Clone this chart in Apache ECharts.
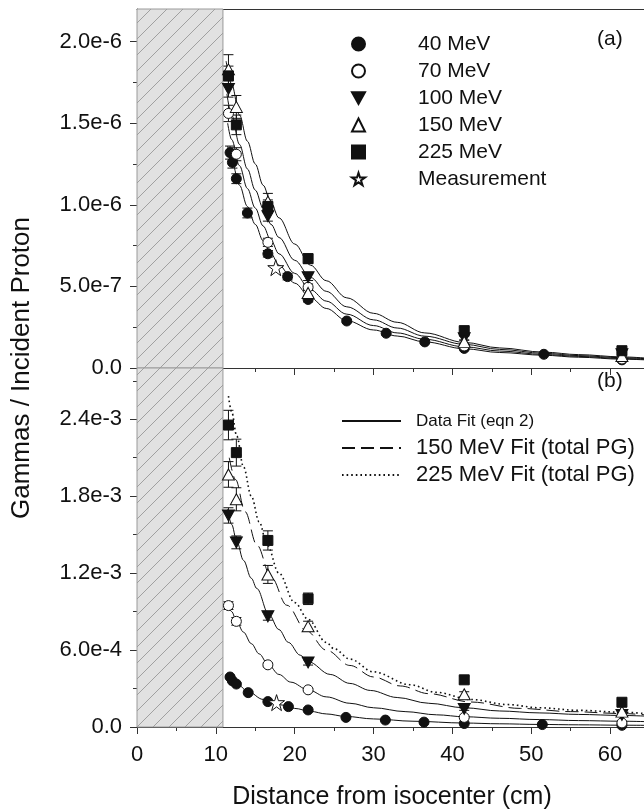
<!DOCTYPE html>
<html>
<head>
<meta charset="utf-8">
<script src="https://cdn.jsdelivr.net/npm/echarts@6/dist/echarts.min.js"></script>
<style>
html, body { margin: 0; padding: 0; background: #fff; }
#chart { width: 644px; height: 812px; }
</style>
</head>
<body>
<div id="chart"></div>
<script>
// Distance from isocenter in cm.
// Panel (a): prompt-gamma yield in units of 1e-6 per incident proton.
// Panel (b): yield in units of 1e-3 per incident proton.
// Point rows: [distance, value, error]

const xTicks = [0, 10, 20, 30, 40, 50, 60];
const xMinor = [5, 15, 25, 35, 45, 55];
const aTicks = [0, 0.5, 1.0, 1.5, 2.0];
const aTickLabels = ['0.0', '5.0e-7', '1.0e-6', '1.5e-6', '2.0e-6'];
const aMinor = [0.25, 0.75, 1.25, 1.75];
const bTicks = [0, 0.6, 1.2, 1.8, 2.4];
const bTickLabels = ['0.0', '6.0e-4', '1.2e-3', '1.8e-3', '2.4e-3'];
const bMinor = [0.3, 0.9, 1.5, 2.1, 2.7];

const xMax = 64.3;
const aMax = 2.2;
const bMax = 2.8;
const shieldEnd = 10.9;   // hatched region, 0 .. shieldEnd cm

// ---- panel (a) measurements
const a40 = [[11.8,1.32,0.04],[12.1,1.26,0.035],[12.6,1.16,0.03],[14.0,0.95,0.03],[16.6,0.70,0.02],[19.1,0.56,0.02],[21.7,0.42,0.015],[26.6,0.288,0.01],[31.6,0.213,0.01],[36.5,0.16,0.008],[41.5,0.12,0.008],[51.6,0.084,0.006],[61.5,0.05,0.005]];
const a70 = [[11.6,1.56,0.05],[12.6,1.31,0.04],[16.6,0.77,0.025],[21.7,0.495,0.02],[41.5,0.135,0.01],[61.5,0.055,0.008]];
const a100 = [[11.6,1.71,0.05],[16.6,0.93,0.03],[21.7,0.556,0.02],[41.5,0.182,0.012],[61.5,0.085,0.008]];
const a150 = [[11.6,1.83,0.09],[12.6,1.60,0.07],[16.6,1.02,0.05],[21.7,0.46,0.02],[41.5,0.16,0.012],[61.5,0.074,0.008]];
const a225 = [[11.6,1.79,0.06],[12.6,1.49,0.06],[16.6,0.99,0.04],[21.7,0.67,0.03],[41.5,0.229,0.02],[61.5,0.106,0.012]];
const aMeas = [[17.6,0.615]];

// ---- panel (a) fitted curves
const fitA40 = [[11.5,1.36],[12,1.27],[13,1.12],[14,0.99],[15,0.88],[16,0.78],[17,0.70],[18,0.63],[20,0.52],[22,0.43],[24,0.365],[26.6,0.29],[30,0.233],[33,0.196],[36.5,0.16],[41.5,0.118],[46,0.095],[51.6,0.078],[56,0.066],[61.5,0.054],[64.5,0.05]];
const fitA70 = [[11.5,1.50],[12,1.40],[13,1.24],[14,1.10],[15,0.98],[16,0.87],[17,0.78],[18,0.70],[20,0.58],[22,0.48],[24,0.41],[26.6,0.33],[30,0.26],[33,0.215],[36.5,0.176],[41.5,0.13],[46,0.104],[51.6,0.083],[56,0.071],[61.5,0.058],[64.5,0.053]];
const fitA100 = [[11.4,1.68],[12,1.55],[13,1.37],[14,1.22],[15,1.09],[16,0.98],[17,0.88],[18,0.80],[20,0.66],[22,0.555],[24,0.47],[26.6,0.375],[30,0.295],[33,0.245],[36.5,0.195],[41.5,0.145],[46,0.114],[51.6,0.09],[56,0.076],[61.5,0.063],[64.5,0.057]];
const fitA225 = [[11.3,1.88],[12,1.74],[13,1.55],[14,1.39],[15,1.25],[16,1.12],[17,1.01],[18,0.92],[20,0.76],[22,0.63],[24,0.535],[26.6,0.43],[30,0.335],[33,0.28],[36.5,0.215],[41.5,0.157],[46,0.123],[51.6,0.097],[56,0.082],[61.5,0.068],[64.5,0.061]];

// ---- panel (b) measurements
const b40 = [[11.8,0.39,0.01],[12.1,0.36,0.01],[12.6,0.335,0.01],[14.1,0.268,0.008],[16.6,0.198,0.006],[19.2,0.159,0.005],[21.7,0.133,0.004],[26.5,0.075,0.003],[31.5,0.054,0.002],[36.4,0.038,0.002],[41.5,0.027,0.002],[51.4,0.019,0.002],[61.5,0.013,0.002]];
const b70 = [[11.6,0.947,0.03],[12.6,0.824,0.03],[16.6,0.485,0.015],[21.7,0.29,0.01],[41.5,0.075,0.006],[61.5,0.032,0.004]];
const b100 = [[11.6,1.65,0.06],[12.6,1.44,0.05],[16.6,0.863,0.03],[21.7,0.503,0.02],[41.5,0.14,0.01],[61.5,0.094,0.008]];
const b150 = [[11.6,1.97,0.1],[12.6,1.776,0.09],[16.6,1.19,0.07],[21.7,0.785,0.04],[41.5,0.255,0.02],[61.5,0.12,0.012]];
const b225 = [[11.6,2.355,0.115],[12.6,2.14,0.105],[16.6,1.455,0.075],[21.7,1.0,0.045],[41.5,0.368,0.025],[61.5,0.193,0.02]];
const bMeas = [[17.7,0.19]];

// ---- panel (b) fitted curves
const fitB40 = [[11.6,0.40],[12.5,0.35],[14,0.28],[16,0.215],[18,0.175],[20,0.145],[22,0.122],[24,0.102],[26.4,0.083],[30,0.063],[35,0.045],[41.5,0.031],[46,0.025],[51,0.02],[56,0.017],[61.5,0.014],[64.5,0.013]];
const fitB70 = [[11.5,0.97],[12,0.90],[12.65,0.82],[13.5,0.74],[14.5,0.65],[15.5,0.57],[16.6,0.49],[18,0.41],[19.5,0.35],[21.7,0.29],[24,0.235],[27,0.185],[30,0.15],[34,0.12],[38,0.095],[41.5,0.08],[46,0.068],[51,0.058],[56,0.05],[61.5,0.045],[64.5,0.042]];
const fitB100 = [[11.5,1.70],[12,1.58],[12.65,1.45],[13.5,1.30],[14.5,1.16],[15.2,1.08],[16.7,0.88],[18,0.76],[19.2,0.66],[20.7,0.56],[21.7,0.51],[24.5,0.41],[27,0.34],[29.6,0.285],[33,0.23],[37,0.185],[41.5,0.15],[46,0.125],[51,0.11],[56,0.098],[61.5,0.09],[64.5,0.085]];
const totalPG150 = [[11.7,2.10],[12.5,1.93],[13.7,1.68],[15.2,1.42],[17,1.17],[19,0.95],[21.5,0.75],[24,0.60],[27,0.48],[30,0.39],[33.4,0.32],[37,0.26],[42.3,0.195],[48.6,0.145],[55,0.12],[61.5,0.105],[64.5,0.095]];
const totalPG225 = [[11.6,2.58],[12,2.46],[12.65,2.27],[13.5,2.03],[14.5,1.80],[15.5,1.60],[16.5,1.42],[18,1.20],[20,0.97],[21.7,0.84],[24,0.66],[25,0.61],[27,0.53],[30,0.43],[34.6,0.33],[38,0.27],[42.3,0.215],[47,0.175],[51,0.15],[56,0.13],[61.5,0.115],[64.5,0.105]];

const FONT = 'Liberation Sans, Arial, Helvetica, sans-serif';
const INK = '#111';
const AXIS = '#333';
const CLEAR = 'rgba(0,0,0,0)';

// diagonal hatch tile for the shielded region
const hatch = document.createElement('canvas');
hatch.width = 16; hatch.height = 16;
(function () {
  const c = hatch.getContext('2d');
  c.fillStyle = '#e1e1e1';
  c.fillRect(0, 0, 16, 16);
  c.strokeStyle = '#a0a0a0';
  c.lineWidth = 1;
  c.beginPath();
  c.moveTo(-2, 18); c.lineTo(18, -2);
  c.stroke();
})();

const starPath = 'path://M50,2 L61,36 L97,36 L68,57 L79,92 L50,71 L21,92 L32,57 L3,36 L39,36 Z';
const downTriangle = 'path://M0,0 L20,0 L10,18 Z';

function errorBars(params, api) {
  const x = api.value(0), y = api.value(1), e = api.value(2);
  const hi = api.coord([x, y + e]);
  const lo = api.coord([x, y - e]);
  const w = 5;
  const style = { stroke: INK, lineWidth: 1 };
  return {
    type: 'group',
    children: [
      { type: 'line', shape: { x1: hi[0], y1: hi[1], x2: lo[0], y2: lo[1] }, style },
      { type: 'line', shape: { x1: hi[0] - w, y1: hi[1], x2: hi[0] + w, y2: hi[1] }, style },
      { type: 'line', shape: { x1: lo[0] - w, y1: lo[1], x2: lo[0] + w, y2: lo[1] }, style }
    ]
  };
}

function labelFor(ticks, labels) {
  return function (v) {
    let best = 0;
    for (let i = 0; i < ticks.length; i++) {
      if (Math.abs(ticks[i] - v) < Math.abs(ticks[best] - v)) best = i;
    }
    return labels[best];
  };
}

const markerStyles = {
  '40 MeV':  { symbol: 'circle', symbolSize: 10, itemStyle: { color: INK, borderColor: INK, borderWidth: 1, opacity: 1 } },
  '70 MeV':  { symbol: 'circle', symbolSize: 10, itemStyle: { color: '#fff', borderColor: INK, borderWidth: 1, opacity: 1 } },
  '100 MeV': { symbol: downTriangle, symbolSize: [12, 11], itemStyle: { color: INK, borderColor: INK, borderWidth: 1, opacity: 1 } },
  '150 MeV': { symbol: 'triangle', symbolSize: [12, 11], itemStyle: { color: '#fff', borderColor: INK, borderWidth: 1, opacity: 1 } },
  '225 MeV': { symbol: 'rect', symbolSize: 10, itemStyle: { color: INK, borderColor: INK, borderWidth: 1, opacity: 1 } },
  'Measurement': { symbol: starPath, symbolSize: 16, itemStyle: { color: '#fff', borderColor: INK, borderWidth: 1, opacity: 1 } }
};

function scatter(name, rows, gi) {
  return Object.assign({
    name: name, type: 'scatter', xAxisIndex: gi === 0 ? 0 : 3, yAxisIndex: gi === 0 ? 0 : 2,
    data: rows.map(r => [r[0], r[1]]), z: 5, silent: true
  }, markerStyles[name]);
}

function errs(rows, gi) {
  return {
    name: 'err', type: 'custom', xAxisIndex: gi === 0 ? 0 : 3, yAxisIndex: gi === 0 ? 0 : 2,
    data: rows, renderItem: errorBars, encode: { x: 0, y: 1 }, z: 4, silent: true
  };
}

function curve(name, rows, gi, type, width) {
  return {
    name: name, type: 'line', xAxisIndex: gi === 0 ? 0 : 3, yAxisIndex: gi === 0 ? 0 : 2,
    data: rows, symbol: 'none', smooth: 0.35, smoothMonotone: 'x', z: 3, silent: true,
    itemStyle: { color: CLEAR, borderColor: CLEAR, borderWidth: 0 },
    lineStyle: { color: INK, width: width || 1, type: type || 'solid' }
  };
}

function shield(gi, top) {
  return {
    name: 'shield', type: 'line', xAxisIndex: gi === 0 ? 0 : 3, yAxisIndex: gi === 0 ? 0 : 2,
    data: [], silent: true, z: 1,
    markArea: {
      silent: true,
      itemStyle: { color: { image: hatch, repeat: 'repeat' }, borderColor: '#9a9a9a', borderWidth: 1 },
      data: [[{ coord: [0, 0] }, { coord: [shieldEnd, top] }]]
    }
  };
}

const grids = [
  { left: 137, right: 0, top: 9, height: 359 },
  { left: 137, right: 0, top: 368, height: 359 }
];

function xAxisMajor(gi, showLabels) {
  return {
    type: 'value', gridIndex: gi, min: 0, max: xMax, position: 'bottom',
    axisLine: { onZero: false, lineStyle: { color: AXIS, width: 1 } },
    axisTick: { customValues: xTicks, length: 7, inside: false, lineStyle: { color: AXIS } },
    axisLabel: { show: showLabels, customValues: xTicks, margin: 17, fontSize: 22, color: INK, fontFamily: FONT },
    splitLine: { show: false }
  };
}
function xAxisMinor(gi) {
  return {
    type: 'value', gridIndex: gi, min: 0, max: xMax, position: 'bottom',
    axisLine: { show: false, onZero: false },
    axisTick: { customValues: xMinor, length: 4, lineStyle: { color: AXIS } },
    axisLabel: { show: false }, splitLine: { show: false }
  };
}
function yAxisMajor(gi, max, ticks, labels) {
  return {
    type: 'value', gridIndex: gi, min: 0, max: max, position: 'left',
    axisLine: { onZero: false, lineStyle: { color: AXIS, width: 1 } },
    axisTick: { customValues: ticks, length: 7, lineStyle: { color: AXIS } },
    axisLabel: { customValues: ticks, formatter: labelFor(ticks, labels), margin: 15, fontSize: 22, color: INK, fontFamily: FONT },
    splitLine: { show: false }
  };
}
function yAxisMinor(gi, max, ticks) {
  return {
    type: 'value', gridIndex: gi, min: 0, max: max, position: 'left',
    axisLine: { show: false, onZero: false },
    axisTick: { customValues: ticks, length: 4, lineStyle: { color: AXIS } },
    axisLabel: { show: false }, splitLine: { show: false }
  };
}

const xAxes = [
  xAxisMajor(0, false),
  xAxisMinor(0),
  { type: 'value', gridIndex: 0, min: 0, max: xMax, position: 'top',
    axisLine: { onZero: false, lineStyle: { color: AXIS, width: 1 } },
    axisTick: { show: false }, axisLabel: { show: false }, splitLine: { show: false } },
  xAxisMajor(1, true),
  xAxisMinor(1)
];
const yAxes = [
  yAxisMajor(0, aMax, aTicks, aTickLabels),
  yAxisMinor(0, aMax, aMinor),
  yAxisMajor(1, bMax, bTicks, bTickLabels),
  yAxisMinor(1, bMax, bMinor)
];

const series = [
  shield(0, aMax), shield(1, bMax),
  // panel (a)
  curve('fit a40', fitA40, 0), curve('fit a70', fitA70, 0), curve('fit a100', fitA100, 0), curve('fit a225', fitA225, 0),
  errs(a40, 0), errs(a70, 0), errs(a100, 0), errs(a150, 0), errs(a225, 0),
  scatter('40 MeV', a40, 0), scatter('70 MeV', a70, 0), scatter('100 MeV', a100, 0),
  scatter('150 MeV', a150, 0), scatter('225 MeV', a225, 0), scatter('Measurement', aMeas, 0),
  // panel (b)
  curve('Data Fit (eqn 2)', fitB40, 1), curve('Data Fit (eqn 2)', fitB70, 1), curve('Data Fit (eqn 2)', fitB100, 1),
  curve('150 MeV Fit (total PG)', totalPG150, 1, [13, 6]),
  curve('225 MeV Fit (total PG)', totalPG225, 1, [1.6, 3], 1.6),
  errs(b40, 1), errs(b70, 1), errs(b100, 1), errs(b150, 1), errs(b225, 1),
  scatter('40 MeV', b40, 1), scatter('70 MeV', b70, 1), scatter('100 MeV', b100, 1),
  scatter('150 MeV', b150, 1), scatter('225 MeV', b225, 1), scatter('Measurement', bMeas, 1)
];

const chart = echarts.init(document.getElementById('chart'), null, { renderer: 'canvas' });
chart.setOption({
  animation: false,
  backgroundColor: '#fff',
  grid: grids,
  xAxis: xAxes,
  yAxis: yAxes,
  legend: [
    {
      orient: 'vertical', left: 351, top: 33, padding: 0,
      itemWidth: 13, itemHeight: 13, itemGap: 5, selectedMode: false,
      textStyle: { fontSize: 21, lineHeight: 22, color: INK, fontFamily: FONT, padding: [0, 0, 0, 48] },
      data: ['40 MeV', '70 MeV', '100 MeV', '150 MeV', '225 MeV', 'Measurement']
    },
    {
      orient: 'vertical', left: 341, top: 410, padding: 0,
      itemWidth: 59, itemHeight: 14, itemGap: 5, selectedMode: false,
      itemStyle: { opacity: 0 },
      textStyle: { fontSize: 22, lineHeight: 22, color: INK, fontFamily: FONT, padding: [0, 0, 0, 10] },
      data: [
        { name: 'Data Fit (eqn 2)', textStyle: { fontSize: 17 } },
        '150 MeV Fit (total PG)',
        '225 MeV Fit (total PG)'
      ]
    }
  ],
  graphic: [
    { type: 'text', left: 597, top: 29, style: { text: '(a)', fontSize: 21, fill: INK, fontFamily: FONT } },
    { type: 'text', left: 597, top: 371, style: { text: '(b)', fontSize: 21, fill: INK, fontFamily: FONT } },
    { type: 'text', x: 392, y: 797, style: { text: 'Distance from isocenter (cm)', fontSize: 25, fill: INK, fontFamily: FONT, align: 'center', verticalAlign: 'middle' } },
    { type: 'text', x: 22, y: 368, rotation: Math.PI / 2, style: { text: 'Gammas / Incident Proton', fontSize: 26, fill: INK, fontFamily: FONT, align: 'center', verticalAlign: 'middle' } }
  ],
  series: series
});
</script>
</body>
</html>
